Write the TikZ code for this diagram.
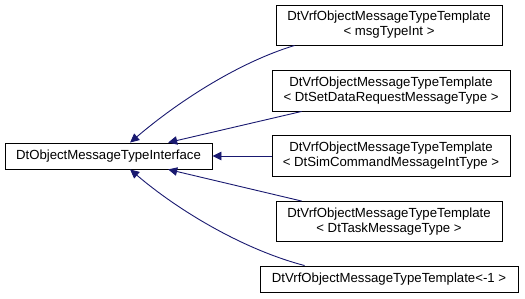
\documentclass[tikz,border=0pt]{standalone}
\usepackage{fontspec}
\setmainfont{Liberation Sans}
\usetikzlibrary{positioning,arrows.meta,calc}
\definecolor{edgeblue}{HTML}{191970}

\begin{document}
\begin{tikzpicture}[x=1pt,y=-1pt,
  cls/.style={draw,line width=0.9pt,fill=white,align=center,inner sep=0pt,
    font=\fontsize{13.2}{15}\selectfont},
  edge/.style={draw=edgeblue,line width=0.9pt,
    -{Triangle[length=9pt,width=8.5pt,fill=edgeblue]}}]
  \useasboundingbox (0,0) rectangle (525,299);
  \node[cls,minimum width=207pt,minimum height=26pt] (iface) at (108.5,156) {DtObjectMessageTypeInterface};
  \node[cls,minimum width=226pt,minimum height=40pt] (tmplA) at (389,25) {DtVrfObjectMessageTypeTemplate\\< msgTypeInt >};
  \node[cls,minimum width=238pt,minimum height=41pt] (tmplB) at (391,90.5) {DtVrfObjectMessageTypeTemplate\\< DtSetDataRequestMessageType >};
  \node[cls,minimum width=238pt,minimum height=41pt] (tmplC) at (391,156) {DtVrfObjectMessageTypeTemplate\\< DtSimCommandMessageIntType >};
  \node[cls,minimum width=226pt,minimum height=40pt] (tmplD) at (389,221.5) {DtVrfObjectMessageTypeTemplate\\< DtTaskMessageType >};
  \node[cls,minimum width=258pt,minimum height=26pt] (tmplE) at (389,279) {DtVrfObjectMessageTypeTemplate<-1 >};
  % inheritance arrows
  \draw[edge] ($(tmplA.south west)!0.084!(tmplA.south east)$) .. controls (240,62) and (180,100) .. ($(iface.north west)!0.604!(iface.north east)$);
  \draw[edge] ($(tmplB.south west)!0.126!(tmplB.south east)$) -- ($(iface.north west)!0.787!(iface.north east)$);
  \draw[edge] (tmplC.west) -- (iface.east);
  \draw[edge] ($(tmplD.north west)!0.115!(tmplD.north east)$) -- ($(iface.south west)!0.787!(iface.south east)$);
  \draw[edge] ($(tmplE.north west)!0.174!(tmplE.north east)$) .. controls (245,250) and (180,212) .. ($(iface.south west)!0.604!(iface.south east)$);
\end{tikzpicture}
\end{document}
